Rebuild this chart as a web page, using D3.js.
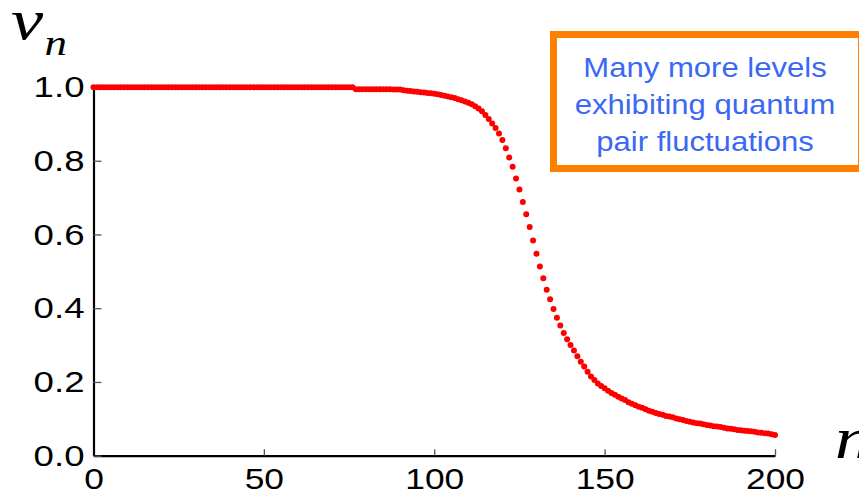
<!DOCTYPE html>
<html>
<head>
<meta charset="utf-8">
<script src="https://cdn.jsdelivr.net/npm/d3@7"></script>
<style>
  body { margin: 0; background: #fff; }
  svg { display: block; }
</style>
</head>
<body>
<div id="chart"></div>
<script>
// occupation v_n for each level n = 0..200
const vn = [
  0.999, 0.999, 0.999, 0.999, 0.999, 0.999, 0.999, 0.999, 0.999, 0.999, 0.999,
  0.999, 0.999, 0.999, 0.999, 0.999, 0.999, 0.999, 0.999, 0.999, 0.999, 0.999,
  0.999, 0.999, 0.999, 0.999, 0.999, 0.999, 0.999, 0.999, 0.999, 0.999, 0.999,
  0.999, 0.999, 0.999, 0.999, 0.999, 0.999, 0.999, 0.999, 0.999, 0.999, 0.999,
  0.999, 0.999, 0.999, 0.999, 0.999, 0.999, 0.999, 0.999, 0.999, 0.999, 0.999,
  0.999, 0.999, 0.999, 0.999, 0.999, 0.999, 0.999, 0.999, 0.999, 0.999, 0.999,
  0.999, 0.999, 0.999, 0.999, 0.999, 0.999, 0.999, 0.999, 0.999, 0.999, 0.999,
  // n = 77..90
  0.994, 0.994, 0.994, 0.994, 0.994, 0.994, 0.994, 0.994, 0.994, 0.994, 0.994, 0.993, 0.993, 0.993,
  // n = 91..111
  0.991, 0.990, 0.989, 0.988, 0.987, 0.986, 0.985, 0.984, 0.983, 0.982, 0.980,
  0.978, 0.976, 0.974, 0.972, 0.970, 0.967, 0.964, 0.961, 0.957, 0.953,
  // n = 112..200
  0.948, 0.942, 0.934, 0.924, 0.913, 0.901, 0.889, 0.874, 0.856, 0.834,
  0.809, 0.784, 0.752, 0.722, 0.688, 0.655, 0.620, 0.584, 0.548, 0.513,
  0.481, 0.450, 0.424, 0.398, 0.374, 0.353, 0.333, 0.316, 0.300, 0.285,
  0.270, 0.255, 0.242, 0.228, 0.215, 0.205, 0.196, 0.189, 0.183, 0.176,
  0.170, 0.165, 0.160, 0.155, 0.151, 0.145, 0.141, 0.137, 0.133, 0.130,
  0.126, 0.122, 0.119, 0.116, 0.113, 0.111, 0.108, 0.106, 0.104, 0.101,
  0.099, 0.097, 0.094, 0.092, 0.090, 0.088, 0.087, 0.085, 0.083, 0.082,
  0.080, 0.079, 0.078, 0.076, 0.074, 0.073, 0.072, 0.070, 0.069, 0.068,
  0.067, 0.066, 0.065, 0.063, 0.062, 0.061, 0.060, 0.058, 0.056
]

const xMajor = [0, 50, 100, 150, 200]
const xMinor = [10, 20, 30, 40, 60, 70, 80, 90, 110, 120, 130, 140, 160, 170, 180, 190]
const yMajor = [0.0, 0.2, 0.4, 0.6, 0.8, 1.0]
const yMinor = [0.05, 0.1, 0.15, 0.25, 0.3, 0.35, 0.45, 0.5, 0.55, 0.65, 0.7, 0.75, 0.85, 0.9, 0.95]
const noteLines = ['Many more levels', 'exhibiting quantum', 'pair fluctuations']

const width = 859, height = 496
const svg = d3.select('#chart').append('svg')
    .attr('width', width)
    .attr('height', height)

const x = d3.scaleLinear().domain([0, 200]).range([93.5, 775])
const y = d3.scaleLinear().domain([0, 1]).range([455.7, 87])

const numFont = "'Liberation Sans', Arial, sans-serif"
const serif = "'Liberation Serif', 'Times New Roman', serif"
const stretch = 1.22   // labels in the original look widened

// x axis
const gx = svg.append('g').attr('transform', `translate(0,${y(0)})`)
gx.call(d3.axisBottom(x).tickValues(xMinor).tickSize(-4).tickSizeOuter(0).tickFormat(''))
gx.call(d3.axisBottom(x).tickValues(xMajor).tickSize(-6.5).tickSizeOuter(0).tickPadding(13))
gx.selectAll('.tick line').attr('stroke', '#555').attr('stroke-width', 1.3)
gx.selectAll('.domain').attr('stroke', '#000').attr('stroke-width', 2.2)
gx.selectAll('.tick text')
    .attr('fill', '#000')
    .style('font-family', numFont)
    .style('font-size', '29px')
    .attr('transform', `scale(${stretch},1)`)

// y axis
const gy = svg.append('g').attr('transform', `translate(${x(0)},0)`)
gy.call(d3.axisLeft(y).tickValues(yMinor).tickSize(-4.5).tickSizeOuter(0).tickFormat(''))
gy.call(d3.axisLeft(y).tickValues(yMajor).tickSize(-8).tickSizeOuter(0).tickFormat(d3.format('.1f')))
gy.selectAll('.tick line').attr('stroke', '#555').attr('stroke-width', 1.3)
gy.selectAll('.domain').attr('stroke', '#000').attr('stroke-width', 2.2)
gy.selectAll('.tick text')
    .attr('x', 0)
    .attr('fill', '#000')
    .style('font-family', numFont)
    .style('font-size', '30px')
    .attr('transform', `translate(-9,0) scale(${stretch},1)`)

// dots
svg.append('g').selectAll('circle')
    .data(vn)
    .join('circle')
    .attr('cx', (d, i) => x(i))
    .attr('cy', d => y(d))
    .attr('r', 3)
    .attr('fill', '#ff0000')

// axis titles
const vt = svg.append('text')
    .attr('transform', `translate(11,39) scale(1.25,1)`)
    .style('font-family', serif)
    .style('font-style', 'italic')
vt.append('tspan').style('font-size', '58px').text('v')
vt.append('tspan').attr('dy', 16).attr('dx', 1).style('font-size', '36px').text('n')

svg.append('text')
    .attr('transform', `translate(835,458) scale(1.2,1)`)
    .style('font-family', serif)
    .style('font-style', 'italic')
    .style('font-size', '60px')
    .text('n')

// note box
svg.append('rect')
    .attr('x', 553.5).attr('y', 34.5)
    .attr('width', 308).attr('height', 134)
    .attr('fill', '#fff')
    .attr('stroke', '#ff7f00')
    .attr('stroke-width', 7)

svg.append('g').selectAll('text')
    .data(noteLines)
    .join('text')
    .attr('transform', (d, i) => `translate(705,${77 + i * 37}) scale(1.13,1)`)
    .attr('text-anchor', 'middle')
    .attr('fill', '#3a68f5')
    .style('font-family', numFont)
    .style('font-size', '27.5px')
    .text(d => d)
</script>
</body>
</html>
